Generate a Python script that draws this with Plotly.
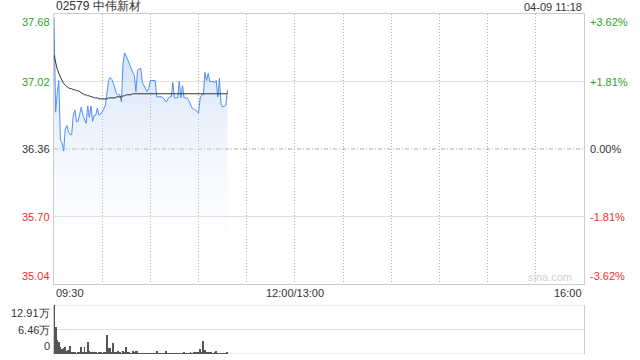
import plotly.graph_objects as go

# ---- data ----
title_text = "02579 中伟新材"
time_stamp = "04-09 11:18"
prev_close = 36.36
y_ticks_left = ["37.68", "37.02", "36.36", "35.70", "35.04"]
y_tick_vals = [37.68, 37.02, 36.36, 35.70, 35.04]
y_ticks_right = ["+3.62%", "+1.81%", "0.00%", "-1.81%", "-3.62%"]
x_tick_labels = ["09:30", "12:00/13:00", "16:00"]
x_tick_vals = [0, 150, 330]
vol_tick_labels = ["12.91万", "6.46万", "0"]
vol_tick_vals = [129100, 64550, 0]

minutes = list(range(109))  # minutes since 09:30
price = [37.65, 36.72, 36.90, 37.03, 36.45, 36.42, 36.34, 36.55, 36.59, 36.53,
         36.50, 36.50, 36.69, 36.74, 36.63, 36.63, 36.70, 36.77, 36.69, 36.65,
         36.61, 36.78, 36.67, 36.78, 36.63, 36.69, 36.69, 36.76, 36.69, 36.70,
         36.72, 36.75, 36.79, 36.94, 37.03, 37.06, 37.04, 37.00, 36.94, 36.90,
         36.89, 36.89, 36.82, 37.20, 37.30, 37.27, 37.23, 37.19, 37.14, 37.11,
         37.08, 36.92, 37.13, 37.14, 37.15, 37.01, 36.98, 36.95, 36.92, 36.95,
         37.03, 37.03, 37.03, 37.03, 36.87, 36.87, 36.87, 36.87, 36.86, 36.84,
         36.82, 36.85, 36.87, 36.87, 37.01, 36.86, 36.86, 36.86, 37.02, 36.86,
         36.98, 36.86, 36.86, 36.86, 36.83, 36.80, 36.76, 36.75, 36.74, 36.73,
         36.71, 36.86, 36.89, 36.89, 37.11, 37.03, 37.10, 37.02, 37.02, 37.02,
         37.01, 37.03, 36.87, 37.05, 36.80, 36.77, 36.78, 36.79, 36.94]
avg_price = [37.28, 37.20, 37.14, 37.10, 37.06, 37.03, 37.00, 36.98, 36.97, 36.96,
             36.95, 36.95, 36.94, 36.94, 36.93, 36.93, 36.92, 36.91, 36.90, 36.89,
             36.89, 36.88, 36.88, 36.87, 36.87, 36.86, 36.86, 36.86, 36.85, 36.85,
             36.85, 36.85, 36.85, 36.85, 36.86, 36.86, 36.86, 36.86, 36.86, 36.87,
             36.87, 36.87, 36.87, 36.88, 36.88, 36.89, 36.89, 36.89, 36.89, 36.90,
             36.90, 36.90, 36.90, 36.90, 36.90, 36.90, 36.90, 36.90, 36.90, 36.90,
             36.90, 36.90, 36.90, 36.90, 36.90, 36.90, 36.90, 36.90, 36.90, 36.90,
             36.90, 36.90, 36.90, 36.90, 36.90, 36.90, 36.90, 36.90, 36.90, 36.90,
             36.90, 36.90, 36.90, 36.90, 36.90, 36.90, 36.90, 36.90, 36.90, 36.90,
             36.90, 36.90, 36.90, 36.90, 36.90, 36.90, 36.90, 36.90, 36.90, 36.90,
             36.90, 36.90, 36.90, 36.90, 36.90, 36.90, 36.90, 36.90, 36.90]
volume = [129100, 71000, 37000, 32000, 18000, 12000, 16000, 18000, 8000, 11000,
          21000, 5000, 4000, 3000, 2000, 6000, 5000, 18000, 4000, 18000,
          6000, 32000, 8000, 5000, 4000, 6000, 3000, 2000, 5000, 3000,
          2000, 5000, 3000, 50000, 16000, 16000, 5000, 29000, 5000, 5000,
          7000, 3000, 2000, 8000, 5000, 18000, 5000, 3000, 2000, 8000,
          5000, 7000, 8000, 2000, 1000, 1500, 1000, 2000, 1000, 1500,
          1000, 2000, 2500, 1000, 7000, 2000, 1500, 1000, 2000, 1000,
          7000, 2000, 1500, 2000, 1000, 1000, 2000, 1500, 1000, 1500,
          2000, 3000, 2000, 1000, 2000, 4000, 2000, 3000, 3000, 6000,
          4000, 12000, 3000, 34000, 10000, 4000, 6000, 3000, 6000, 2000,
          4000, 7000, 2000, 1000, 2000, 1000, 1500, 1000, 5000]

# ---- figure ----
W, H = 640, 360
ml, mr, mt, mb = 54, 56, 14, 6
plot_h = H - mt - mb
main_bottom = (H - mb - 284) / plot_h
vol_top = (H - mb - 305) / plot_h

FONT = "Liberation Sans, Arial, sans-serif"
GREEN = "#2aa52a"
RED = "#f03030"
DARK = "#333333"
GRID = "#aaaaaa"
HGRID = "#dedede"
LINE = "#cccccc"
DOT = "1px,2px"

fig = go.Figure()

# baseline for fill
fig.add_trace(go.Scatter(x=minutes, y=[y_tick_vals[-1]] * len(minutes), mode="lines",
                         line=dict(width=0, color="rgba(0,0,0,0)"), hoverinfo="skip",
                         showlegend=False, xaxis="x", yaxis="y"))
fig.add_trace(go.Scatter(x=minutes, y=price, mode="lines", fill="tonexty",
                         fillgradient=dict(type="vertical",
                                           colorscale=[[0, "rgba(255,255,255,0.0)"],
                                                       [1, "rgba(170,200,245,0.5)"]],
                                           start=35.04, stop=37.3),
                         line=dict(color="#4f8ef5", width=1), showlegend=False,
                         xaxis="x", yaxis="y"))
fig.add_trace(go.Scatter(x=minutes, y=avg_price, mode="lines",
                         line=dict(color="#333333", width=1), showlegend=False,
                         xaxis="x", yaxis="y"))
fig.add_trace(go.Bar(x=minutes, y=volume, width=0.6, marker=dict(color="#555555", line=dict(width=0)),
                     showlegend=False, xaxis="x2", yaxis="y2"))

fig.update_layout(
    width=W, height=H, margin=dict(l=ml, r=mr, t=mt, b=mb),
    paper_bgcolor="white", plot_bgcolor="white",
    font=dict(family=FONT, size=11, color=DARK),
    bargap=0,
    xaxis=dict(domain=[0, 1], range=[0, 330], anchor="y", showticklabels=False,
               ticks="", dtick=30, tick0=0, showgrid=True, gridcolor=GRID, griddash=DOT,
               gridwidth=1, showline=True, mirror=True, linecolor=LINE, linewidth=1,
               zeroline=False, fixedrange=True),
    yaxis=dict(domain=[main_bottom, 1], range=[35.04, 37.68], anchor="x",
               showticklabels=False, ticks="", tickmode="array",
               tickvals=[y_tick_vals[1], y_tick_vals[3]],
               showgrid=True, gridcolor=HGRID, gridwidth=1,
               showline=True, mirror=True, linecolor=LINE, linewidth=1, zeroline=False),
    xaxis2=dict(domain=[0, 1], range=[0, 330], anchor="y2", showticklabels=False,
                ticks="", showgrid=False, showline=False, zeroline=False),
    yaxis2=dict(domain=[0, vol_top], range=[0, 129100], anchor="x2", showticklabels=False,
                ticks="", showgrid=False, showline=True, mirror=True, linecolor=LINE,
                linewidth=1, zeroline=False),
)

shapes = []
# previous close line
shapes.append(dict(type="line", xref="x domain", yref="y", x0=0, x1=1, y0=prev_close, y1=prev_close,
                   line=dict(color="#a8a8a8", width=1, dash="4px,2px,1px,2px"), layer="below"))
# volume panel grid lines
for v in vol_tick_vals:
    shapes.append(dict(type="line", xref="x2 domain", yref="y2", x0=0, x1=1, y0=v, y1=v,
                       line=dict(color=HGRID, width=1), layer="below"))
fig.update_layout(shapes=shapes)

ann = []
ann.append(dict(text=title_text, xref="paper", yref="paper", x=0, y=1, xanchor="left",
                yanchor="bottom", xshift=0, yshift=-1, showarrow=False,
                font=dict(size=12, color=DARK)))
ann.append(dict(text=time_stamp, xref="paper", yref="paper", x=1, y=1, xanchor="right",
                yanchor="bottom", yshift=-1, showarrow=False, font=dict(size=11, color=DARK)))
colors = [GREEN, GREEN, DARK, RED, RED]
for i, (v, lt, rt) in enumerate(zip(y_tick_vals, y_ticks_left, y_ticks_right)):
    ya = "top" if i == 0 else ("bottom" if i == len(y_tick_vals) - 1 else "middle")
    ann.append(dict(text=lt, xref="paper", yref="y", x=0, y=v, xanchor="right", yanchor=ya,
                    xshift=-2, showarrow=False, font=dict(size=11, color=colors[i])))
    ann.append(dict(text=rt, xref="paper", yref="y", x=1, y=v, xanchor="left", yanchor=ya,
                    xshift=4, showarrow=False, font=dict(size=11, color=colors[i])))
xa = ["left", "center", "right"]
for v, t, a in zip(x_tick_vals, x_tick_labels, xa):
    ann.append(dict(text=t, xref="x", yref="paper", x=v, y=main_bottom, xanchor=a, yanchor="top",
                    yshift=-1, showarrow=False, font=dict(size=11, color=DARK)))
for i, (v, t) in enumerate(zip(vol_tick_vals, vol_tick_labels)):
    ya = "top" if i == 0 else ("bottom" if i == len(vol_tick_vals) - 1 else "middle")
    ann.append(dict(text=t, xref="paper", yref="y2", x=0, y=v, xanchor="right", yanchor=ya,
                    xshift=-2, showarrow=False, font=dict(size=11, color=DARK)))
ann.append(dict(text="sina.com", xref="paper", yref="y", x=1, y=35.04, xanchor="right",
                yanchor="bottom", xshift=-10, yshift=-1, showarrow=False,
                font=dict(size=11, color="#cfcfcf")))
fig.update_layout(annotations=ann)

fig.write_html("out.html")
